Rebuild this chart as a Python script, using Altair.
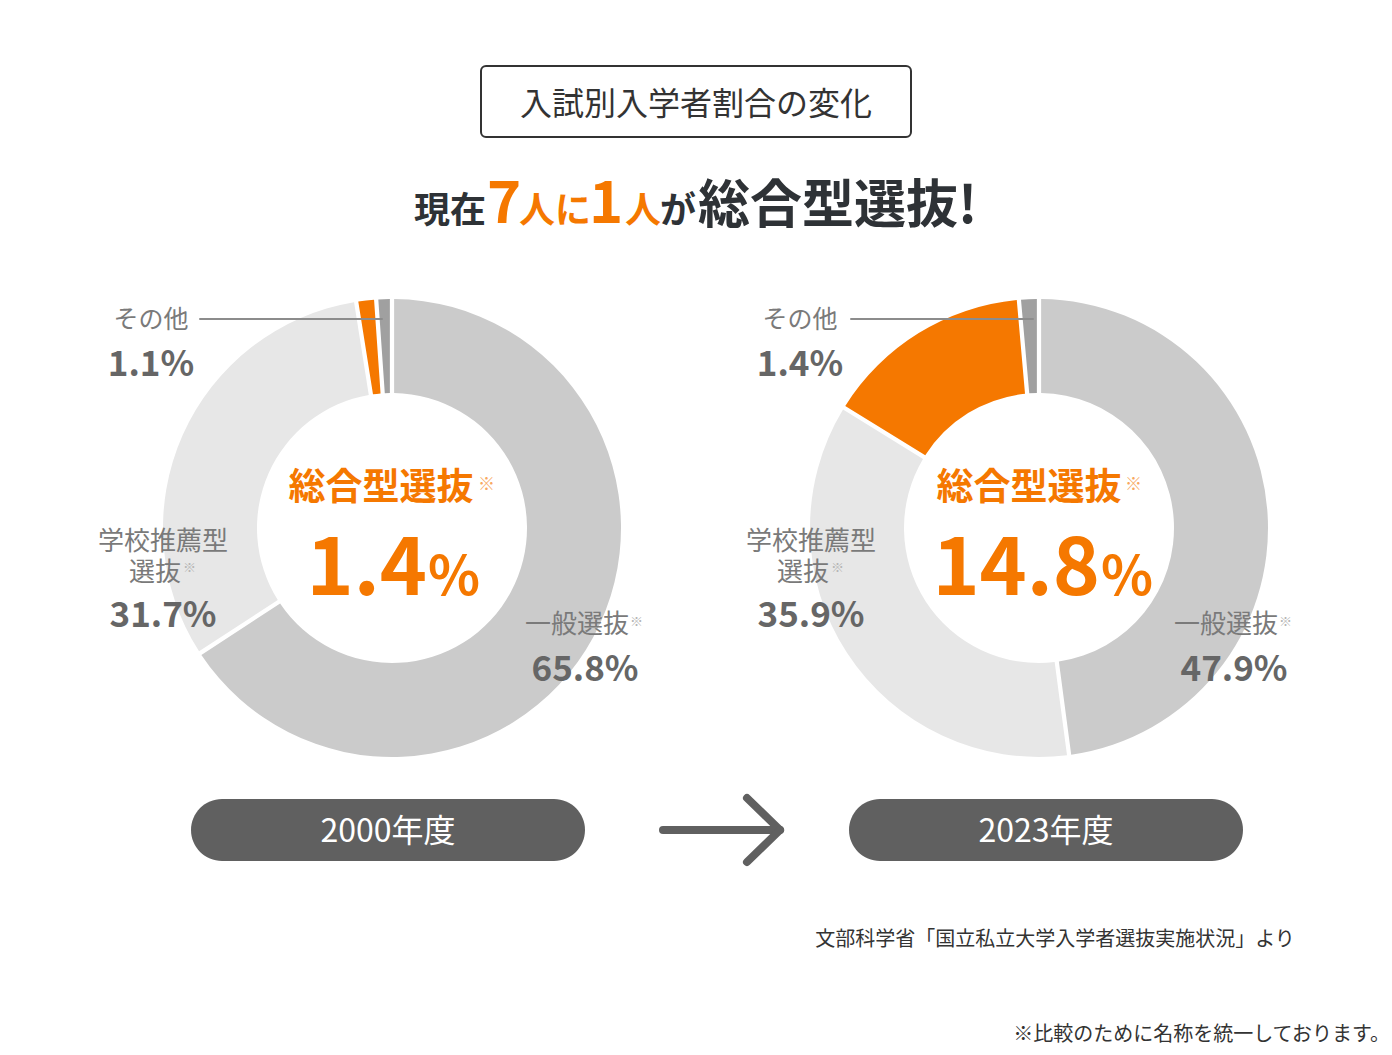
import altair as alt
import pandas as pd

# ---------------- data ----------------
years = ["2000年度", "2023年度"]
categories = ["一般選抜", "学校推薦型選抜", "総合型選抜", "その他"]
share_2000 = [65.8, 31.7, 1.4, 1.1]
share_2023 = [47.9, 35.9, 14.8, 1.4]
cat_colors = ["#cbcbcb", "#e7e7e7", "#f57800", "#a0a0a0"]

title_box_text = "入試別入学者割合の変化"
headline_parts = ["現在", "7", "人", "に", "1", "人", "が", "総合型選抜!"]
source_text = "文部科学省「国立私立大学入学者選抜実施状況」より"
footnote_text = "※比較のために名称を統一しております。"

# ---------------- styling / layout ----------------
ORANGE = "#f57800"
ORANGE_LIGHT = "#f8a860"
DARK = "#2e3236"
GRAY_TXT = "#7a7a7a"
GRAY_VAL = "#666666"
PILL = "#606060"
FONT = "Noto Sans CJK JP"

W, H = 1376, 1039
xs = alt.Scale(domain=[8, 8 + W], nice=False, zero=False)
ys = alt.Scale(domain=[8, 8 + H], nice=False, zero=False, reverse=True)
X = lambda f: alt.X(f, type="quantitative", scale=xs, axis=None)
Y = lambda f: alt.Y(f, type="quantitative", scale=ys, axis=None)


def txt(s, x, y, size, color, weight="normal", align="center"):
    df = pd.DataFrame({"x": [x], "y": [y], "t": [s]})
    return alt.Chart(df).mark_text(
        font=FONT, fontSize=size, color=color, fontWeight=weight,
        align=align, baseline="alphabetic"
    ).encode(x=X("x"), y=Y("y"), text="t:N")


def rect(x1, y1, x2, y2, **kw):
    df = pd.DataFrame({"x": [x1], "x2": [x2], "y": [y1], "y2": [y2]})
    return alt.Chart(df).mark_rect(**kw).encode(
        x=X("x"), x2="x2", y=Y("y"), y2="y2")


def seg(x1, y1, x2, y2, color, width):
    df = pd.DataFrame({"x": [x1], "x2": [x2], "y": [y1], "y2": [y2]})
    return alt.Chart(df).mark_rule(color=color, strokeWidth=width, strokeCap="round").encode(
        x=X("x"), x2="x2", y=Y("y"), y2="y2")


def donut(vals, cx, cy):
    df = pd.DataFrame({"cat": categories, "v": vals, "o": [0, 1, 2, 3],
                       "cx": [cx] * 4, "cy": [cy] * 4})
    return alt.Chart(df).mark_arc(innerRadius=135, outerRadius=229, padAngle=0.016).encode(
        theta=alt.Theta("v:Q", stack=True),
        order=alt.Order("o:Q"),
        color=alt.Color("cat:N", scale=alt.Scale(domain=categories, range=cat_colors), legend=None),
        x=X("cx"), y=Y("cy"),
    )


def pct(v):
    return f"{v}%"


layers = []

# title box
layers.append(rect(481, 66, 911, 137, fill="white", stroke="#333333", strokeWidth=2, cornerRadius=5))
layers.append(txt(title_box_text, 696, 115, 32, "#333333"))

# headline
hx = [414, 487, 519, 555, 589, 625, 660, 698]
hs = [36, 58, 36, 36, 58, 36, 36, 52]
hc = [DARK, ORANGE, ORANGE, ORANGE, ORANGE, ORANGE, DARK, DARK]
for s, x, fs, c in zip(headline_parts, hx, hs, hc):
    layers.append(txt(s, x, 223, fs, c, weight="bold", align="left"))

# donuts
centers = [(392, 528), (1039, 528)]
shares = [share_2000, share_2023]
for (cx, cy), vals in zip(centers, shares):
    layers.append(donut(vals, cx, cy))

for i, ((cx, cy), vals) in enumerate(zip(centers, shares)):
    dx = cx - 392
    # center label
    layers.append(txt("総合型選抜", 381 + dx + i, 500, 37, ORANGE, weight="bold"))
    layers.append(txt("※", 478 + dx, 490, 17, ORANGE_LIGHT, align="left"))
    big = f"{vals[2]}"
    bx = [427, 1100][i]
    layers.append(txt(big, bx, 595, 80, ORANGE, weight="bold", align="right"))
    layers.append(txt("%", bx + 1, 595, 54, ORANGE, weight="bold", align="left"))
    # その他
    ox = [151, 800][i]
    layers.append(txt("その他", ox, 328, 25, GRAY_TXT))
    layers.append(txt(pct(vals[3]), ox, 376, 35, GRAY_VAL, weight="bold"))
    layers.append(seg(200 + dx + 4 * i, 319, 382 + dx + 4 * i, 319, "#8c8c8c", 2))
    # 学校推薦型
    sx = [163, 811][i]
    layers.append(txt("学校推薦型", sx, 550, 26, GRAY_TXT))
    layers.append(txt("選抜", sx - 8, 581, 26, GRAY_TXT))
    layers.append(txt("※", sx + 20, 572, 13, "#b5b5b5", align="left"))
    layers.append(txt(pct(vals[1]), sx, 627, 35, GRAY_VAL, weight="bold"))
    # 一般選抜
    gx = [577, 1226][i]
    layers.append(txt("一般選抜", gx, 633, 26, GRAY_TXT))
    layers.append(txt("※", gx + 53, 626, 13, "#b5b5b5", align="left"))
    layers.append(txt(pct(vals[0]), [585, 1234][i], 681, 35, GRAY_VAL, weight="bold"))

# year pills
for x1, yr in zip([191, 849], years):
    layers.append(rect(x1, 799, x1 + 394, 861, fill=PILL, cornerRadius=31))
    layers.append(txt(yr, x1 + 197, 842, 32, "white"))

# arrow
layers.append(seg(663, 830, 780, 830, PILL, 8))
layers.append(seg(747, 798, 780, 830, PILL, 8))
layers.append(seg(780, 830, 747, 862, PILL, 8))

# source / footnote
layers.append(txt(source_text, 1055, 946, 20, "#333333"))
layers.append(txt(footnote_text, 1390, 1041, 20, "#333333", align="right"))

chart = alt.layer(*layers).properties(
    width=W, height=H, padding=0, background="white",
    autosize=alt.AutoSizeParams(type="none"),
).configure_view(stroke=None)

chart.save("out.html", embed_options={"renderer": "svg", "actions": False})
